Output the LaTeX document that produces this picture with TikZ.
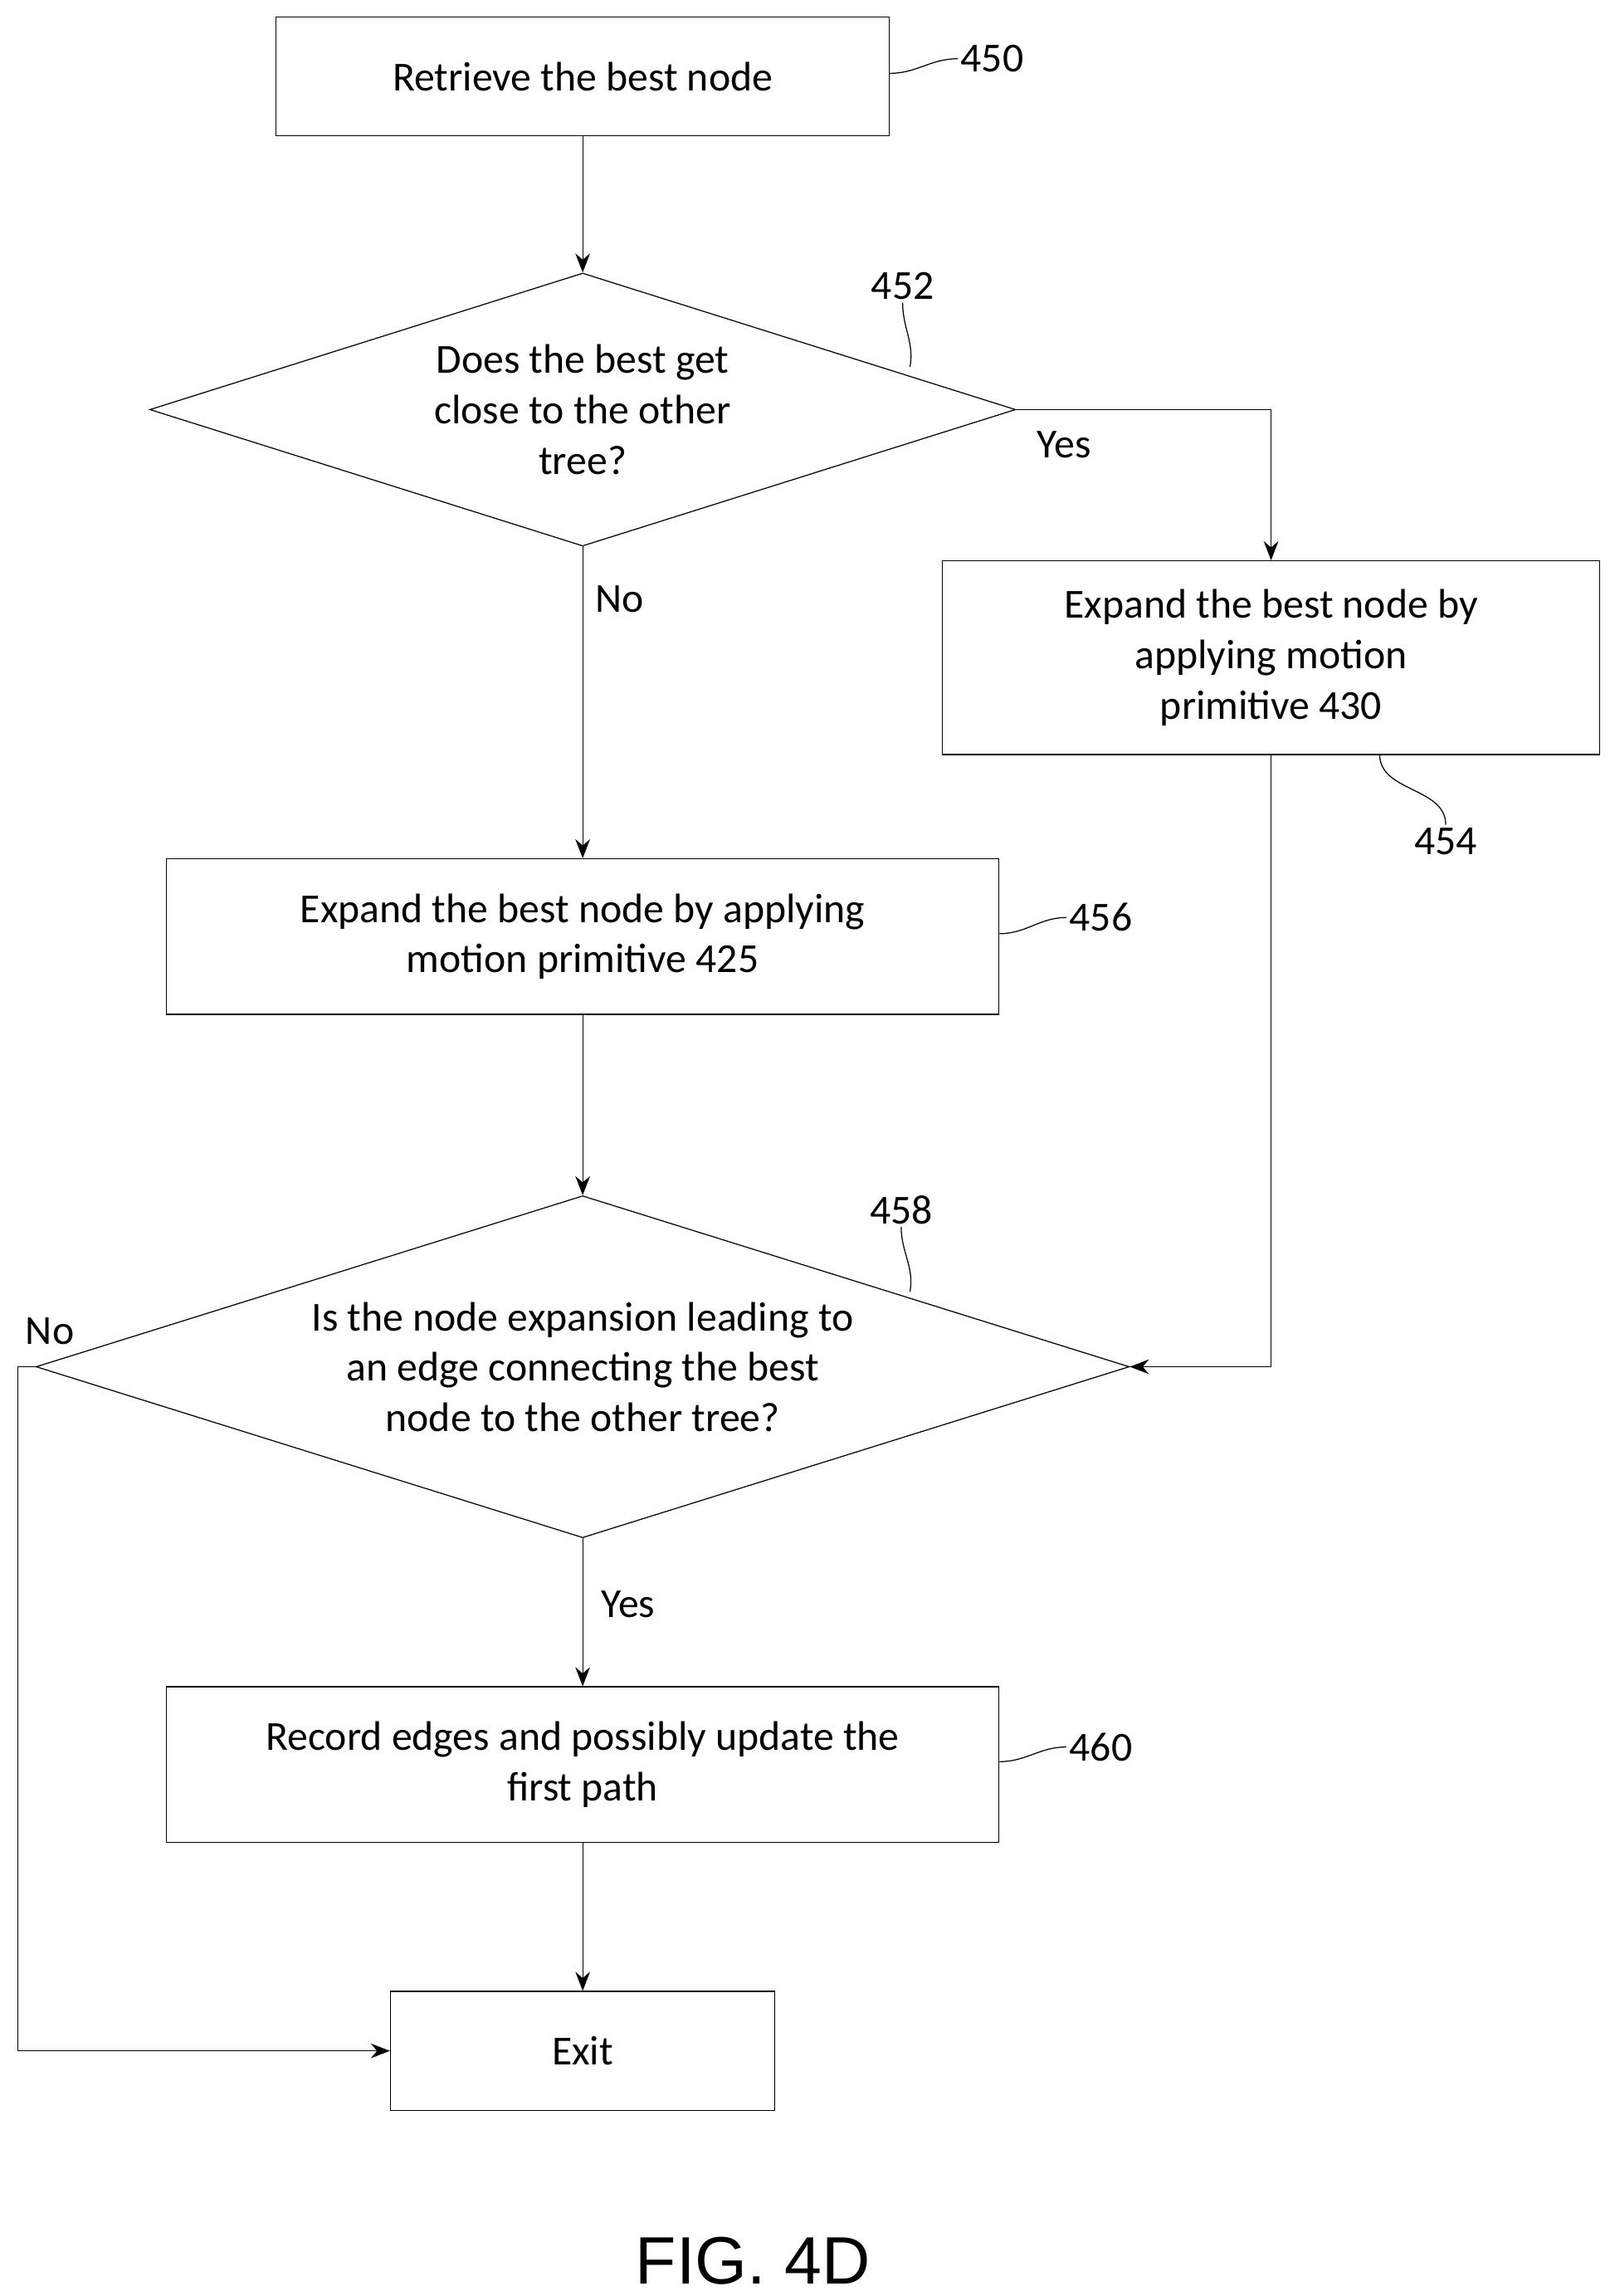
\documentclass[tikz,border=0pt]{standalone}
\usepackage{fontspec}
\setmainfont{Carlito}
\newfontfamily\figfont{Liberation Sans}
\usetikzlibrary{arrows.meta,shapes.geometric,positioning}
\tikzset{>={Stealth[length=2.6mm,width=2mm]}}

\begin{document}
\begin{tikzpicture}[x=0.02cm,y=-0.02cm,font=\fontsize{16}{19.5}\selectfont]
	\tikzset{block/.style={draw, thin, rectangle, align=center, inner sep=0pt},
		decision/.style={draw, thin, diamond, align=center, inner sep=0pt},
		lbl/.style={inner sep=1pt},
		flow/.style={thin,->},
		lead/.style={thin}
	}
	\useasboundingbox (0,0) rectangle (1100,1564);
	% boxes
	\node [block, minimum width=8.36cm, minimum height=1.62cm] (retr) at (397,52) {Retrieve the best node};
	\node [decision, aspect=3.17, minimum width=11.8cm, minimum height=3.72cm] (close) at (397,279) {Does the best get\\close to the other\\tree?};
	\node [block, minimum width=8.96cm, minimum height=2.64cm] (expB) at (866,448) {Expand the best node by\\applying motion\\primitive 430};
	\node [block, minimum width=11.34cm, minimum height=2.12cm] (expA) at (397,638) {Expand the best node by applying\\motion primitive 425};
	\node [decision, aspect=3.2, minimum width=14.9cm, minimum height=4.66cm] (edge) at (397,931) {Is the node expansion leading to\\an edge connecting the best\\node to the other tree?};
	\node [block, minimum width=11.34cm, minimum height=2.12cm] (rec) at (397,1202) {Record edges and possibly update the\\first path};
	\node [block, minimum width=5.24cm, minimum height=1.62cm] (exit) at (397,1397) {Exit};
	% reference numbers
	\node [lbl] (n450) at (676,40) {450};
	\node [lbl] (n452) at (615,195) {452};
	\node [lbl] (n454) at (985,573) {454};
	\node [lbl] (n456) at (750,625) {456};
	\node [lbl] (n458) at (614,824) {458};
	\node [lbl] (n460) at (750,1190) {460};
	\draw [lead] (606,50) to[out=0,in=180] (n450.west);
	\draw [lead] (620,250) to[out=80,in=-90] (n452.south);
	\draw [lead] (940,514) to[out=-90,in=90] (n454.north);
	\draw [lead] (681,636) to[out=0,in=180] (n456.west);
	\draw [lead] (620,880) to[out=80,in=-90] (n458.south);
	\draw [lead] (681,1200) to[out=0,in=180] (n460.west);
	% flow
	\draw [flow] (retr) -- (close);
	\draw [flow] (close.east) -| (expB.north);
	\draw [flow] (close) -- (expA);
	\draw [flow] (expA) -- (edge);
	\draw [flow] (expB.south) |- (edge.east);
	\draw [flow] (edge) -- (rec);
	\draw [flow] (rec) -- (exit);
	\draw [flow] (edge.west) -- (12,931) |- (exit.west);
	% branch labels
	\node [lbl] (yes1) at (725,303) {Yes};
	\node [lbl] (no1) at (422,408) {No};
	\node [lbl] (no2) at (34,907) {No};
	\node [lbl] (yes2) at (428,1093) {Yes};
	\node [font=\figfont\fontsize{26}{30}\selectfont] (fig) at (513,1540) {FIG. 4D};
\end{tikzpicture}
\end{document}
